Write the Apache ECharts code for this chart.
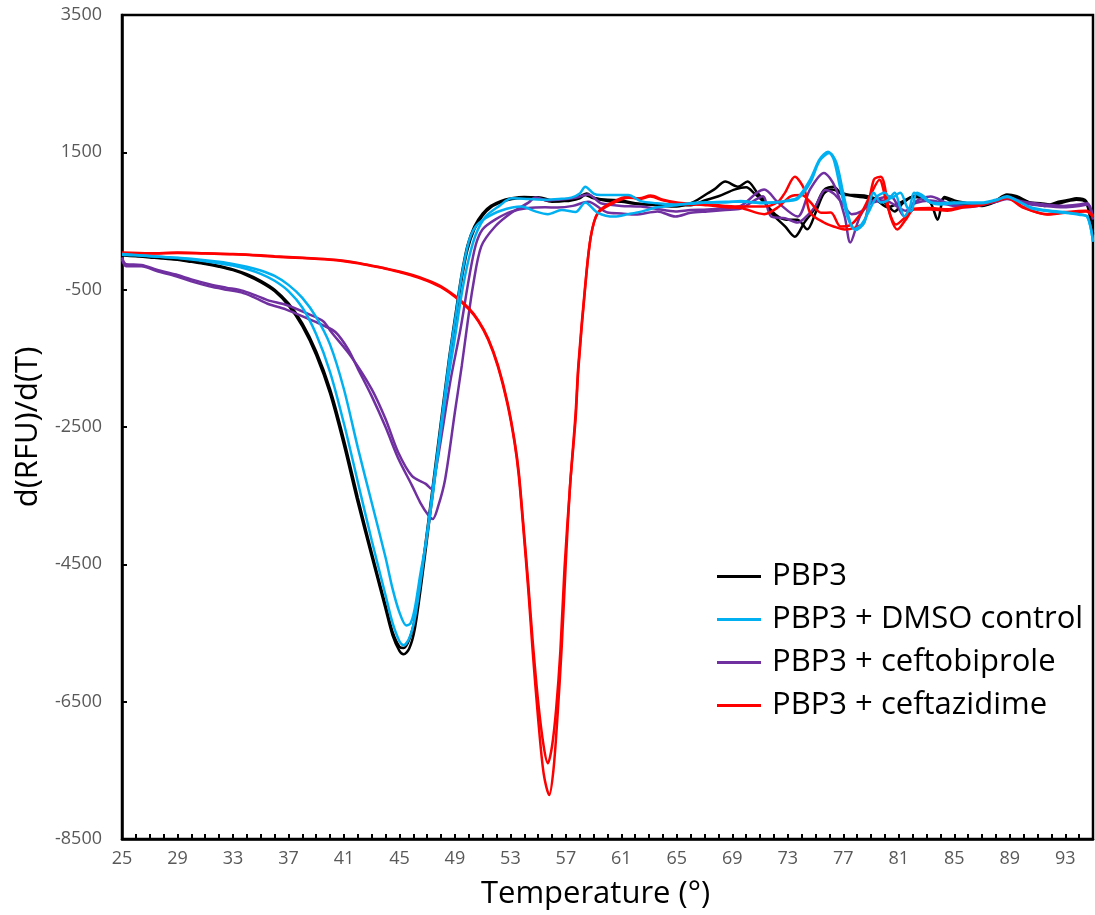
<!DOCTYPE html>
<html>
<head>
<meta charset="utf-8">
<script src="https://cdn.jsdelivr.net/npm/echarts@6/dist/echarts.min.js"></script>
<style>
html,body{margin:0;padding:0;background:#fff;}
#chart{width:1095px;height:915px;}
</style>
</head>
<body>
<div id="chart"></div>
<script>
// Temperature axis (°) and d(RFU)/d(T) axis settings
const xMin = 25, xMax = 95, xLabelStep = 4;
const yMin = -8500, yMax = 3500, yStep = 2000;
const legendNames = ['PBP3', 'PBP3 + DMSO control', 'PBP3 + ceftobiprole', 'PBP3 + ceftazidime'];

// PBP3 replicate 1 and 2: [temperature, d(RFU)/d(T)]
const pbp3A = [[25,0],[26,-15],[27,-30],[28,-45],[29,-65],[30,-95],[31,-125],[32,-165],[33,-215],[34,-290],[35,-390],[36,-520],[37,-730],[38,-1030],[39,-1450],[40,-2010],[41,-2760],[42,-3600],[43,-4380],[44,-5150],[44.5,-5530],[45,-5760],[45.3,-5810],[45.7,-5730],[46.1,-5450],[46.6,-4750],[47.1,-3950],[47.6,-3150],[48.1,-2350],[48.6,-1550],[49.1,-850],[49.5,-330],[49.9,80],[50.4,380],[51,580],[51.6,700],[52.3,770],[53.1,820],[54,840],[55,845],[56,800],[57,790],[58,830],[58.4,880],[59,830],[60,810],[61,800],[62,760],[63,740],[64,720],[65,710],[66,760],[66.5,810],[67.2,900],[67.7,960],[68.5,1075],[69.4,1000],[70.1,1075],[70.8,910],[71.3,800],[71.8,620],[72.8,420],[73.5,270],[74.2,480],[74.9,670],[75.6,950],[76.3,1000],[77,880],[77.8,880],[78.5,870],[79.3,830],[80,768],[80.7,640],[81.3,760],[82,850],[82.7,830],[83.3,760],[83.8,520],[84.3,850],[85,800],[85.7,768],[86.5,740],[87.3,740],[88,800],[88.8,885],[89.5,860],[90.5,768],[91.2,760],[91.9,740],[92.5,780],[93.3,810],[93.8,830],[94.5,790],[94.8,560],[95,320]];
const pbp3B = [[25,10],[26,-5],[27,-20],[28,-40],[29,-60],[30,-85],[31,-115],[32,-155],[33,-205],[34,-275],[35,-370],[36,-500],[37,-700],[38,-990],[39,-1400],[40,-1950],[41,-2690],[42,-3530],[43,-4330],[44,-5100],[44.5,-5480],[45,-5700],[45.3,-5720],[45.7,-5600],[46.1,-5300],[46.6,-4620],[47.1,-3850],[47.6,-3050],[48.1,-2250],[48.6,-1470],[49.1,-780],[49.5,-260],[49.9,140],[50.4,420],[51,610],[51.6,720],[52.3,790],[53.1,830],[54,850],[55,830],[56,780],[57,800],[58,860],[58.5,900],[59,840],[60,790],[61,780],[62,750],[63,740],[64,740],[65,730],[66,730],[67,800],[68,860],[69.2,960],[70,990],[70.6,900],[71.3,770],[72.2,580],[72.9,520],[73.7,520],[74.4,380],[75,620],[75.6,900],[76.2,960],[77,900],[77.8,860],[78.6,840],[79.4,800],[80.2,700],[81,760],[81.7,830],[82.4,880],[83,800],[83.7,760],[84.3,830],[85,760],[86,740],[87,720],[88,780],[88.8,860],[89.6,830],[90.5,760],[91.5,720],[92.3,740],[93,780],[93.8,810],[94.5,770],[95,300]];

// PBP3 + DMSO control replicates
const dmsoA = [[25,20],[26,5],[27,-10],[28,-25],[29,-40],[30,-60],[31,-85],[32,-115],[33,-150],[34,-200],[35,-270],[36,-370],[37,-520],[38,-760],[39,-1150],[40,-1700],[41,-2450],[42,-3300],[43,-4150],[44,-4950],[44.5,-5350],[45,-5620],[45.3,-5680],[45.7,-5580],[46.1,-5300],[46.6,-4650],[47.1,-3880],[47.6,-3100],[48.1,-2300],[48.6,-1500],[49.1,-820],[49.5,-280],[50,200],[50.5,420],[51.2,540],[52.3,650],[53.8,710],[54.8,640],[55.7,600],[56.7,660],[57.7,630],[58.4,770],[59.3,620],[60.5,565],[61.5,600],[62.5,640],[63.6,700],[65,730],[66,760],[67.2,770],[68.5,780],[69.6,780],[71,770],[72,770],[73,800],[73.7,840],[74.6,1100],[75.3,1400],[75.9,1510],[76.3,1400],[76.8,960],[77.3,560],[77.8,380],[78.3,450],[78.8,620],[79.4,850],[80,910],[80.4,830],[81.1,910],[81.6,700],[81.9,640],[82.3,910],[82.8,860],[83.3,770],[84,740],[85,760],[86,760],[87,760],[88,800],[88.8,860],[89.5,800],[90.5,690],[91.5,650],[92.9,620],[94,590],[94.6,560],[95,200]];
const dmsoB = [[25,10],[26,0],[27,-15],[28,-25],[29,-35],[30,-50],[31,-70],[32,-95],[33,-125],[34,-165],[35,-220],[36,-300],[37,-430],[38,-620],[39,-900],[40,-1300],[41,-1950],[42,-2800],[43,-3600],[44,-4400],[44.5,-4850],[45,-5200],[45.5,-5390],[45.8,-5360],[46.1,-5150],[46.5,-4650],[46.9,-4200],[47.4,-3500],[47.9,-2700],[48.4,-1950],[49,-1200],[49.5,-550],[50,-50],[50.5,300],[51.2,560],[52.2,720],[53.1,830],[54.3,820],[55.5,810],[56.5,820],[57.4,840],[58,900],[58.4,1000],[59,900],[59.5,880],[60.5,880],[61.5,880],[62.4,790],[63.5,760],[64.9,740],[66,750],[67.2,770],[68.5,770],[69.6,790],[71,760],[72,770],[73,790],[73.7,820],[74.6,1050],[75.3,1380],[76,1490],[76.5,1350],[77,900],[77.5,480],[77.9,370],[78.5,470],[79.2,910],[79.7,770],[80.2,800],[80.7,910],[81.1,700],[81.4,570],[81.8,700],[82.1,910],[82.6,860],[83.3,770],[84,760],[85,770],[86,770],[87,770],[88,810],[88.8,850],[89.5,800],[90.5,700],[91.5,660],[92.9,630],[94,600],[94.6,560],[95,200]];

// PBP3 + ceftobiprole replicates
const ceftobiproleA = [[25,-60],[25.3,-160],[26.4,-160],[27.5,-230],[28.9,-306],[30,-380],[31.3,-452],[32.5,-500],[33.6,-540],[34.6,-620],[35.6,-713],[36.8,-786],[38.5,-931],[39.5,-1020],[40.4,-1120],[41.3,-1367],[42,-1650],[43,-2050],[44,-2500],[44.9,-2950],[45.9,-3350],[46.5,-3600],[47.1,-3790],[47.4,-3840],[47.8,-3650],[48.3,-3256],[49,-2282],[49.5,-1600],[49.9,-1000],[50.3,-450],[50.9,130],[51.9,420],[53.1,623],[54.3,768],[54.8,841],[55.7,800],[56.7,812],[57.7,840],[58.6,885],[59.5,760],[60,740],[61,720],[62.4,710],[63.5,680],[64.9,640],[66,660],[67.2,667],[68.5,690],[69.6,720],[70.8,914],[71.3,957],[72.3,768],[73.7,565],[74.6,960],[75.6,1200],[76.4,1000],[77.1,565],[77.5,187],[78.2,565],[79,780],[80.4,856],[81.4,565],[82.1,770],[83.3,856],[84.5,760],[85.7,720],[86.7,740],[88,800],[88.8,841],[90,780],[91.5,740],[92.9,720],[94,740],[94.6,760],[95,560]];
const ceftobiproleB = [[25,-30],[25.3,-130],[26.4,-140],[27.5,-210],[28.9,-280],[30,-350],[31.3,-420],[32.5,-470],[33.6,-510],[34.6,-580],[35.6,-660],[36.8,-720],[38.5,-860],[39.5,-960],[40.1,-1120],[41.5,-1469],[43,-1948],[44,-2384],[44.9,-2864],[45.9,-3212],[46.9,-3328],[47.3,-3400],[47.6,-3150],[48,-2675],[48.7,-1803],[49.4,-1077],[50,-350],[50.5,150],[51,380],[51.9,520],[53.1,640],[54.3,690],[55.5,700],[56.4,696],[57.5,720],[58.6,780],[60,623],[61,610],[62,594],[63.6,640],[64.9,565],[66,620],[67.2,640],[68.5,660],[69.6,680],[70.6,800],[71.2,860],[71.8,565],[72.8,540],[73.7,478],[74.5,600],[75,720],[75.7,950],[76.3,900],[77,740],[77.6,600],[78.3,640],[79,760],[80,800],[80.8,720],[81.5,650],[82.2,760],[83.3,800],[84.5,740],[85.7,700],[86.7,720],[88,780],[88.8,820],[90,760],[91.5,720],[92.9,700],[94,720],[94.6,740],[95,520]];

// PBP3 + ceftazidime replicates
const ceftazidimeA = [[25,40],[27,30],[29,40],[31,30],[33,20],[35,0],[36,-15],[38,-35],[40,-60],[41,-80],[42,-110],[43,-150],[44,-190],[45,-235],[46,-290],[47,-360],[48,-450],[49,-590],[50,-770],[50.7,-950],[51.4,-1210],[52.1,-1600],[52.8,-2150],[53.3,-2700],[53.6,-3150],[53.9,-3837],[54.3,-4810],[54.6,-5600],[55,-6500],[55.4,-7150],[55.7,-7396],[56,-7150],[56.3,-6600],[56.6,-5770],[56.9,-4563],[57.3,-3357],[57.7,-2384],[57.9,-1658],[58.4,-452],[58.8,274],[59.3,623],[60.3,768],[61.5,856],[62.3,820],[63.1,856],[64,800],[65,760],[66,740],[67.2,740],[68.5,720],[69.6,710],[71.3,710],[72.3,780],[72.8,914],[73.5,1146],[74.2,957],[74.6,623],[75.6,478],[76.3,420],[77.1,377],[77.8,400],[78.5,478],[79.2,1103],[79.7,1146],[80.4,565],[80.9,377],[81.5,520],[82.1,667],[83.3,667],[84.5,650],[85.7,700],[86.7,720],[88,800],[88.8,841],[90,700],[91.7,594],[93,620],[94.5,640],[95,560]];
const ceftazidimeB = [[25,30],[27,25],[29,35],[31,25],[33,15],[35,-5],[36,-20],[38,-40],[40,-65],[41,-85],[42,-115],[43,-155],[44,-195],[45,-245],[46,-300],[47,-370],[48,-465],[49,-605],[50,-785],[50.7,-965],[51.4,-1230],[52.1,-1620],[52.8,-2180],[53.3,-2730],[53.6,-3200],[53.9,-3900],[54.3,-4900],[54.6,-5750],[55,-6750],[55.4,-7550],[55.8,-7860],[56.1,-7500],[56.4,-6700],[56.7,-5700],[57,-4450],[57.3,-3357],[57.7,-2300],[57.9,-1600],[58.4,-420],[58.8,280],[59.3,610],[60.3,750],[61.5,840],[62.3,830],[63.1,870],[64,810],[65,770],[66,750],[67.2,730],[68.5,700],[69.6,690],[71.3,600],[72.3,700],[73.2,860],[74,880],[74.6,780],[75.4,620],[76.1,623],[76.8,420],[77.5,440],[78.3,623],[79,900],[79.6,1100],[80.2,700],[80.8,450],[81.5,560],[82.1,680],[83.3,690],[84.5,670],[85.7,710],[86.7,730],[88,790],[88.8,830],[90,690],[91.7,600],[93,630],[94.5,650],[95,580]];

const colors = {black:'#000000', blue:'#00B0F0', purple:'#7030A0', red:'#FF0000'};
const FONT = '"Open Sans", "Noto Sans", sans-serif';

function mk(name, data, color) {
  return {
    name: name, type: 'line', data: data, showSymbol: false, symbol: 'none',
    smooth: 0.3, color: color,
    lineStyle: {width: 2.5, color: color},
    emphasis: {disabled: true}
  };
}

const chart = echarts.init(document.getElementById('chart'), null, {renderer: 'canvas'});
chart.setOption({
  animation: false,
  backgroundColor: '#ffffff',
  grid: {left: 122, right: 2, top: 15, bottom: 74, show: true, borderColor: '#000', borderWidth: 2.5, containLabel: false},
  legend: {
    data: legendNames,
    orient: 'vertical', left: 712, top: 556, itemGap: 12,
    icon: 'rect', itemWidth: 44, itemHeight: 3,
    textStyle: {fontFamily: FONT, fontSize: 31, color: '#000', padding: [0,0,0,6]}
  },
  xAxis: {
    type: 'value', min: xMin, max: xMax, interval: 1,
    name: 'Temperature (°)', nameLocation: 'middle', nameGap: 40,
    nameTextStyle: {fontFamily: FONT, fontSize: 31, color: '#000', padding: [0, 24, 0, 0]},
    axisLine: {show: true, onZero: false, lineStyle: {color: '#000', width: 2.5}},
    axisTick: {show: true, inside: true, length: 5, lineStyle: {color: '#000', width: 2}},
    axisLabel: {
      fontFamily: FONT, fontSize: 18, color: '#595959', margin: 11, showMaxLabel: false,
      formatter: function (v) { return ((v - xMin) % xLabelStep === 0 && v < xMax) ? String(v) : ''; }
    },
    splitLine: {show: false}
  },
  yAxis: {
    type: 'value', min: yMin, max: yMax, interval: yStep,
    name: 'd(RFU)/d(T)', nameLocation: 'middle', nameGap: 64, nameRotate: 90,
    nameTextStyle: {fontFamily: FONT, fontSize: 31, color: '#000'},
    axisLine: {show: true, onZero: false, lineStyle: {color: '#000', width: 2.5}},
    axisTick: {show: true, inside: true, length: 5, lineStyle: {color: '#000', width: 2}},
    axisLabel: {fontFamily: FONT, fontSize: 18, color: '#595959', margin: 20,
      formatter: function (v) { return String(v); }},
    splitLine: {show: false}
  },
  series: [
    mk(legendNames[0], pbp3A, colors.black),
    mk(legendNames[0], pbp3B, colors.black),
    mk(legendNames[2], ceftobiproleA, colors.purple),
    mk(legendNames[2], ceftobiproleB, colors.purple),
    mk(legendNames[3], ceftazidimeA, colors.red),
    mk(legendNames[3], ceftazidimeB, colors.red),
    mk(legendNames[1], dmsoA, colors.blue),
    mk(legendNames[1], dmsoB, colors.blue)
  ]
});
</script>
</body>
</html>
